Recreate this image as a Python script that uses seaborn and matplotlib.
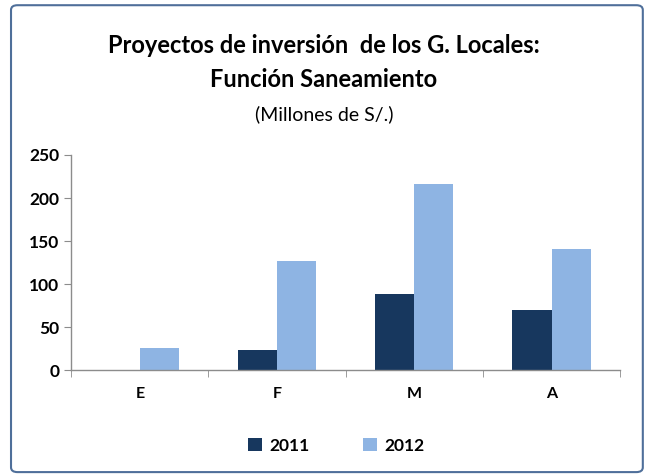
import seaborn as sns
import matplotlib.pyplot as plt
import matplotlib.patches as mpatches
import pandas as pd

meses = ['E', 'F', 'M', 'A']
anios = ['2011', '2012']
valores_2011 = [0.8, 24, 89, 70]
valores_2012 = [26, 127, 216, 141]

df = pd.DataFrame({
    'Mes': meses * 2,
    'Año': ['2011'] * len(meses) + ['2012'] * len(meses),
    'Monto': valores_2011 + valores_2012,
})

sns.set_style('white')
plt.rcParams['font.family'] = ['Lato', 'DejaVu Sans']
plt.rcParams['text.color'] = 'black'
plt.rcParams['xtick.color'] = 'black'
plt.rcParams['ytick.color'] = 'black'

fig = plt.figure(figsize=(6.48, 4.74), dpi=100)
ax = fig.add_axes([0.110, 0.219, 0.847, 0.454])

paleta = {'2011': '#17375E', '2012': '#8EB4E3'}
sns.barplot(data=df, x='Mes', y='Monto', hue='Año', hue_order=anios,
            palette=paleta, width=0.57, saturation=1, linewidth=0,
            ax=ax, legend=True)

ax.set_ylim(0, 250)
ax.set_xlim(-0.5, 3.5)
ax.set_yticks([0, 50, 100, 150, 200, 250])
ax.set_xlabel('')
ax.set_ylabel('')

for s in ['top', 'right']:
    ax.spines[s].set_visible(False)
for s in ['left', 'bottom']:
    ax.spines[s].set_color('#8C8C8C')
    ax.spines[s].set_linewidth(1.0)

ax.tick_params(axis='y', direction='out', length=5, color='#8C8C8C',
               labelsize=12.5, left=True, labelcolor='black')
ax.tick_params(axis='x', which='major', length=0, labelsize=11.5, pad=12,
               labelcolor='black')
ax.set_xticks([-0.5, 0.5, 1.5, 2.5, 3.5], minor=True)
ax.tick_params(axis='x', which='minor', direction='out', length=5,
               color='#8C8C8C', bottom=True)
for t in ax.get_yticklabels() + ax.get_xticklabels():
    t.set_fontweight('bold')

ax.legend(loc='center', bbox_to_anchor=(0.483, -0.35), ncol=2, frameon=False,
          prop={'weight': 'bold', 'size': 12.5}, handlelength=0.8,
          handleheight=0.8, columnspacing=3.1, handletextpad=0.4)

fig.text(0.5, 0.905, 'Proyectos de inversión  de los G. Locales:',
         ha='center', va='center', fontsize=17, fontweight='bold')
fig.text(0.5, 0.833, 'Función Saneamiento',
         ha='center', va='center', fontsize=17, fontweight='bold')
fig.text(0.5, 0.760, '(Millones de S/.)',
         ha='center', va='center', fontsize=14)

borde = mpatches.FancyBboxPatch((0.017, 0.004), 0.975, 0.985,
                                boxstyle='round,pad=0,rounding_size=0.01',
                                transform=fig.transFigure, fill=False,
                                edgecolor='#4F6F9A', linewidth=1.5)
fig.patches.append(borde)

fig.savefig('out.png', dpi=100)
